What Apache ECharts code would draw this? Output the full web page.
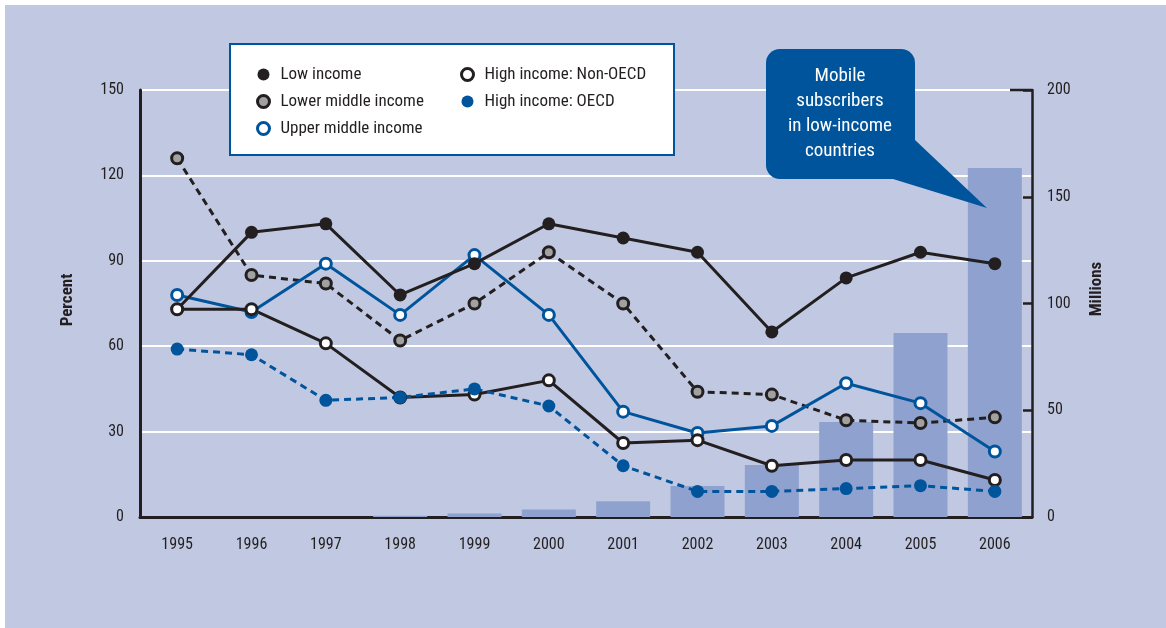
<!DOCTYPE html>
<html>
<head>
<meta charset="utf-8">
<script src="https://cdn.jsdelivr.net/npm/echarts@6/dist/echarts.min.js"></script>
<style>
  html, body { margin: 0; padding: 0; background: #fff; }
  #chart { width: 1166px; height: 628px; }
</style>
</head>
<body>
<div id="chart"></div>
<script>
// data
var years = ['1995', '1996', '1997', '1998', '1999', '2000', '2001', '2002', '2003', '2004', '2005', '2006'];
var mobileLowIncome = [0, 0, 0, 0.6, 1.6, 3.5, 7.4, 14.5, 24.4, 44.5, 86.2, 163.5]; // millions
var lowIncome = [73, 100, 103, 78, 89, 103, 98, 93, 65, 84, 93, 89];
var lowerMiddle = [126, 85, 82, 62, 75, 93, 75, 44, 43, 34, 33, 35];
var upperMiddle = [78, 72, 89, 71, 92, 71, 37, 29.5, 32, 47, 40, 23];
var highNonOecd = [73, 73, 61, 42, 43, 48, 26, 27, 18, 20, 20, 13];
var highOecd = [59, 57, 41, 42, 45, 39, 18, 9, 9, 10, 11, 9];
var percentTicks = [0, 30, 60, 90, 120, 150];
var millionTicks = [0, 50, 100, 150, 200];

var font = "'Liberation Sans Narrow', 'Arial Narrow', 'Roboto Condensed', sans-serif";
var dark = '#231f20';
var blue = '#00549c';
var panel = '#c1c9e2';

function lineSeries(name, data, lineColor, dashed, fill, border) {
    return {
        name: name,
        type: 'line',
        data: data,
        symbol: 'circle',
        symbolSize: border ? 11 : 13,
        z: 3,
        lineStyle: { color: lineColor, width: 3, type: dashed ? [7, 5] : 'solid' },
        itemStyle: { color: fill, borderColor: border, borderWidth: border ? 3 : 0 },
        emphasis: { disabled: true }
    };
}

function legendItem(name, ring) {
    return ring ? { name: name, itemStyle: { borderWidth: 3 } } : { name: name };
}

var legendText = { fontFamily: font, fontSize: 17, color: dark, padding: [0, 0, 0, 6] };

var myChart = echarts.init(document.querySelector('#chart'));
var option = {
    backgroundColor: panel,
    animation: false,
    textStyle: { fontFamily: font },
    grid: { left: 140, right: 134, top: 90, bottom: 111 },
    legend: [
        {
            left: 251, top: 61, orient: 'vertical', itemGap: 10,
            itemWidth: 12, itemHeight: 12, icon: 'circle', z: 12,
            textStyle: legendText,
            data: [legendItem('Low income', false), legendItem('Lower middle income', true), legendItem('Upper middle income', true)]
        },
        {
            left: 455, top: 61, orient: 'vertical', itemGap: 10,
            itemWidth: 12, itemHeight: 12, icon: 'circle', z: 12,
            textStyle: legendText,
            data: [legendItem('High income: Non-OECD', true), legendItem('High income: OECD', false)]
        }
    ],
    xAxis: {
        type: 'category',
        data: years,
        boundaryGap: true,
        axisLine: { lineStyle: { color: dark, width: 3 } },
        axisTick: { show: false },
        axisLabel: { color: dark, fontSize: 16, margin: 20, fontFamily: font }
    },
    yAxis: [
        {
            type: 'value', min: percentTicks[0], max: percentTicks[percentTicks.length - 1], interval: 30,
            axisLine: { show: true, lineStyle: { color: dark, width: 3 } },
            axisTick: { show: false },
            splitLine: { lineStyle: { color: '#ffffff', width: 2 } },
            axisLabel: { color: dark, fontSize: 16, margin: 16, fontFamily: font }
        },
        {
            type: 'value', min: millionTicks[0], max: millionTicks[millionTicks.length - 1], interval: 50,
            position: 'right',
            axisLine: { show: true, lineStyle: { color: dark, width: 2.5 } },
            axisTick: { show: true, inside: true, length: 9, lineStyle: { color: dark, width: 2.5 } },
            splitLine: { show: false },
            axisLabel: { color: dark, fontSize: 16, margin: 15, fontFamily: font }
        }
    ],
    series: [
        {
            name: 'Mobile subscribers',
            type: 'bar',
            yAxisIndex: 1,
            data: mobileLowIncome,
            barWidth: 54,
            itemStyle: { color: '#8fa2cf' },
            z: 2,
            emphasis: { disabled: true }
        },
        lineSeries('Lower middle income', lowerMiddle, dark, true, '#a1a1a1', dark),
        lineSeries('Upper middle income', upperMiddle, blue, false, '#ffffff', blue),
        lineSeries('Low income', lowIncome, dark, false, dark, null),
        lineSeries('High income: Non-OECD', highNonOecd, dark, false, '#ffffff', dark),
        lineSeries('High income: OECD', highOecd, blue, true, blue, null)
    ],
    graphic: [
        // white margin on top and left
        { type: 'rect', left: 0, top: 0, shape: { width: 1166, height: 5 }, style: { fill: '#fff' }, z: 0 },
        { type: 'rect', left: 0, top: 0, shape: { width: 5, height: 628 }, style: { fill: '#fff' }, z: 0 },
        // longer top tick on the right axis
        { type: 'line', z: 4, shape: { x1: 1010, y1: 90, x2: 1032, y2: 90 }, style: { stroke: dark, lineWidth: 2.5 } },
        // legend box
        {
            type: 'rect', z: 10,
            shape: { x: 230, y: 44, width: 444, height: 111 },
            style: { fill: '#ffffff', stroke: blue, lineWidth: 2 }
        },
        // callout
        {
            type: 'polygon', z: 10,
            shape: { points: [[893, 179], [915, 140], [987, 208]] },
            style: { fill: blue }
        },
        {
            type: 'rect', z: 10,
            shape: { x: 766, y: 49, width: 149, height: 130, r: 14 },
            style: { fill: blue }
        },
        {
            type: 'text', z: 11, x: 840, y: 114,
            style: {
                text: 'Mobile\nsubscribers\nin low-income\ncountries',
                fill: '#ffffff', font: '19px ' + font, lineHeight: 25,
                align: 'center', verticalAlign: 'middle'
            }
        },
        // axis titles
        {
            type: 'text', z: 11, x: 68, y: 300, rotation: Math.PI / 2,
            style: { text: 'Percent', fill: dark, font: 'bold 17px ' + font, align: 'center', verticalAlign: 'middle' }
        },
        {
            type: 'text', z: 11, x: 1097, y: 289, rotation: Math.PI / 2,
            style: { text: 'Millions', fill: dark, font: 'bold 17px ' + font, align: 'center', verticalAlign: 'middle' }
        }
    ]
};
myChart.setOption(option, true);
</script>
</body>
</html>
